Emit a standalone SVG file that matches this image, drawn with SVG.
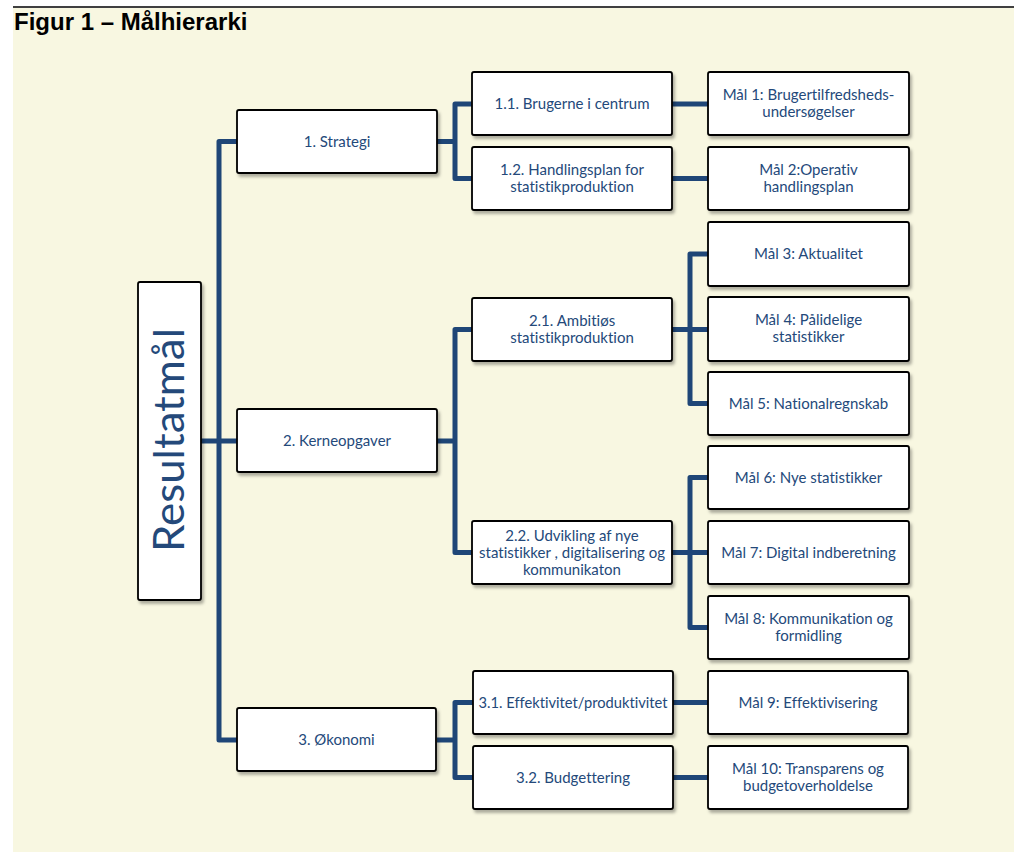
<svg xmlns="http://www.w3.org/2000/svg" width="1014" height="852" viewBox="0 0 1014 852">
<defs>
<style>
.bg{fill:#f8f7e1}
.box{fill:#ffffff;stroke:#000000;stroke-width:1.8;filter:url(#sh)}
.t{font-family:Lato,"Open Sans","Liberation Sans",sans-serif;font-size:15px;fill:#24497a;text-anchor:middle;font-variant-ligatures:none;font-feature-settings:"liga" 0}
.big{font-size:42px}
.c{fill:none;stroke:#1f4677;stroke-width:5;stroke-linejoin:round;stroke-linecap:butt}
</style>
<filter id="sh" x="-10%" y="-10%" width="125%" height="130%">
<feDropShadow dx="2" dy="3" stdDeviation="1.5" flood-color="#000" flood-opacity="0.3"/>
</filter>
</defs>
<rect class="bg" x="13" y="8" width="1001" height="844"/>
<line x1="13" y1="7" x2="1014" y2="7" stroke="#000" stroke-width="1.5"/>
<text x="14" y="30" font-family="'Liberation Sans',Arial,sans-serif" font-size="24" font-weight="bold" fill="#000">Figur 1 – Målhierarki</text>

<g id="connectors">
<path class="c" d="M201 441H237"/>
<path class="c" d="M237 141.5H219V740H237"/>
<path class="c" d="M437 141.5H455M472 104H455V178.5H472"/>
<path class="c" d="M672 104H708M672 178.5H708"/>
<path class="c" d="M437 441H455M472 329.5H455V552.5H472"/>
<path class="c" d="M672 329.5H708M708 254H690V403.5H708"/>
<path class="c" d="M672 552.5H708M708 477.5H690V627.5H708"/>
<path class="c" d="M437 740H455M473 702.5H455V777.5H473"/>
<path class="c" d="M673 702.5H708M673 777.5H708"/>
</g>

<g id="resultatmaal">
<rect class="box" x="138" y="282" width="63" height="318" rx="2"/>
<text class="t big" transform="translate(184,440) rotate(-90)" textLength="224" lengthAdjust="spacingAndGlyphs">Resultatmål</text>
</g>

<g id="n1"><rect class="box" x="237" y="110" width="200" height="63" rx="2"/><text class="t" x="337" y="146.5">1. Strategi</text></g>
<g id="n2"><rect class="box" x="237" y="409" width="200" height="63" rx="2"/><text class="t" x="337" y="446">2. Kerneopgaver</text></g>
<g id="n3"><rect class="box" x="237" y="708" width="199" height="63" rx="2"/><text class="t" x="336.5" y="745">3. Økonomi</text></g>

<g id="n11"><rect class="box" x="472" y="72" width="200" height="63" rx="2"/><text class="t" x="572" y="109">1.1. Brugerne i centrum</text></g>
<g id="n12"><rect class="box" x="472" y="147" width="200" height="63" rx="2"/><text class="t" x="572" y="175">1.2. Handlingsplan for</text><text class="t" x="572" y="192">statistikproduktion</text></g>
<g id="n21"><rect class="box" x="472" y="298" width="200" height="63" rx="2"/><text class="t" x="572" y="326">2.1. Ambitiøs</text><text class="t" x="572" y="343">statistikproduktion</text></g>
<g id="n22"><rect class="box" x="472" y="521" width="200" height="63" rx="2"/><text class="t" x="572" y="540.5">2.2. Udvikling af nye</text><text class="t" x="572" y="557.5" textLength="186" lengthAdjust="spacingAndGlyphs">statistikker , digitalisering og</text><text class="t" x="572" y="574.5">kommunikaton</text></g>
<g id="n31"><rect class="box" x="473" y="671" width="200" height="63" rx="2"/><text class="t" x="573" y="707.5" textLength="189" lengthAdjust="spacingAndGlyphs">3.1. Effektivitet/produktivitet</text></g>
<g id="n32"><rect class="box" x="473" y="746" width="200" height="63" rx="2"/><text class="t" x="573" y="782.5">3.2. Budgettering</text></g>

<g id="m1"><rect class="box" x="708" y="72" width="201" height="63" rx="2"/><text class="t" x="808.5" y="100">Mål 1: Brugertilfredsheds-</text><text class="t" x="808.5" y="117">undersøgelser</text></g>
<g id="m2"><rect class="box" x="708" y="147" width="201" height="63" rx="2"/><text class="t" x="808.5" y="175">Mål 2:Operativ</text><text class="t" x="808.5" y="192">handlingsplan</text></g>
<g id="m3"><rect class="box" x="708" y="222" width="201" height="64" rx="2"/><text class="t" x="808.5" y="258.5">Mål 3: Aktualitet</text></g>
<g id="m4"><rect class="box" x="708" y="297" width="201" height="64" rx="2"/><text class="t" x="808.5" y="325">Mål 4: Pålidelige</text><text class="t" x="808.5" y="342">statistikker</text></g>
<g id="m5"><rect class="box" x="708" y="372" width="201" height="63" rx="2"/><text class="t" x="808.5" y="408.5">Mål 5: Nationalregnskab</text></g>
<g id="m6"><rect class="box" x="708" y="446" width="201" height="63" rx="2"/><text class="t" x="808.5" y="482.5">Mål 6: Nye statistikker</text></g>
<g id="m7"><rect class="box" x="708" y="521" width="201" height="63" rx="2"/><text class="t" x="808.5" y="557.5">Mål 7: Digital indberetning</text></g>
<g id="m8"><rect class="box" x="708" y="596" width="201" height="63" rx="2"/><text class="t" x="808.5" y="624">Mål 8: Kommunikation og</text><text class="t" x="808.5" y="641">formidling</text></g>
<g id="m9"><rect class="box" x="708" y="671" width="200" height="63" rx="2"/><text class="t" x="808" y="707.5">Mål 9: Effektivisering</text></g>
<g id="m10"><rect class="box" x="708" y="746" width="200" height="63" rx="2"/><text class="t" x="808" y="774">Mål 10: Transparens og</text><text class="t" x="808" y="791">budgetoverholdelse</text></g>
</svg>
